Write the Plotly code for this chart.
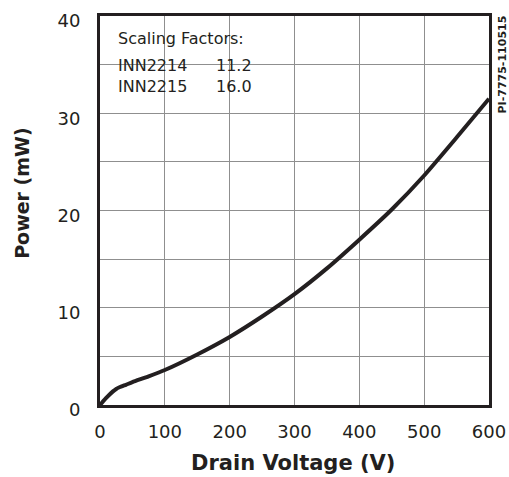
import plotly.graph_objects as go

# Data
drain_voltage = [0, 10, 20, 25, 30, 40, 50, 75, 100, 150, 200, 250, 300, 350, 400, 450, 500, 550, 600]
power_mw = [0, 0.75, 1.4, 1.65, 1.82, 2.08, 2.35, 2.95, 3.6, 5.2, 7.0, 9.1, 11.4, 14.05, 17.0, 20.1, 23.6, 27.5, 31.5]

x_ticks = [0, 100, 200, 300, 400, 500, 600]
y_ticks = [0, 10, 20, 30, 40]

legend_title = "Scaling Factors:"
devices = ["INN2214", "INN2215"]
factors = ["11.2", "16.0"]

INK = "#231f20"
GRID = "#8f8f8f"
FONT = "DejaVu Sans"

fig = go.Figure()
fig.add_trace(go.Scatter(
    x=drain_voltage, y=power_mw, mode="lines",
    line=dict(color=INK, width=4, shape="spline", smoothing=0.6),
    showlegend=False, hoverinfo="skip",
))

fig.update_layout(
    width=509, height=477, autosize=False,
    margin=dict(l=100, r=20, t=16, b=72, autoexpand=False),
    paper_bgcolor="white", plot_bgcolor="white",
    font=dict(family=FONT, color=INK),
    showlegend=False,
)

fig.update_xaxes(
    range=[0, 600], tickvals=x_ticks, ticktext=[str(v) for v in x_ticks],
    showgrid=True, gridcolor=GRID, gridwidth=1,
    showline=True, linecolor=INK, linewidth=3, mirror=True,
    ticks="", ticklabelstandoff=8, zeroline=False, automargin=False,
    tickfont=dict(size=18, family=FONT, color=INK),
)
fig.update_yaxes(
    range=[0, 40], tickvals=y_ticks, ticktext=[str(v) for v in y_ticks],
    showgrid=True, gridcolor=GRID, gridwidth=1,
    minor=dict(dtick=5, showgrid=True, gridcolor=GRID, gridwidth=1),
    showline=True, linecolor=INK, linewidth=3, mirror=True,
    ticks="", ticklabelstandoff=13, ticklabelshift=5, zeroline=False, automargin=False,
    tickfont=dict(size=18, family=FONT, color=INK),
)

# White legend box covering the grid
fig.add_shape(type="rect", xref="paper", yref="paper",
              x0=0.012, x1=0.393, y0=0.785, y1=0.99,
              fillcolor="white", line=dict(width=0), layer="between")

fig.add_annotation(text=legend_title, xref="paper", yref="paper",
                   x=0.04, y=0.942, xanchor="left", yanchor="middle",
                   showarrow=False, font=dict(size=16, family=FONT, color=INK))
for i, (d, f) in enumerate(zip(devices, factors)):
    yy = 0.874 - i * 0.0565
    fig.add_annotation(text=d, xref="paper", yref="paper",
                       x=0.04, y=yy, xanchor="left", yanchor="middle",
                       showarrow=False, font=dict(size=16, family=FONT, color=INK))
    fig.add_annotation(text=f, xref="paper", yref="paper",
                       x=0.292, y=yy, xanchor="left", yanchor="middle",
                       showarrow=False, font=dict(size=16, family=FONT, color=INK))

# Axis titles
fig.add_annotation(text="<b>Drain Voltage (V)</b>", xref="paper", yref="paper",
                   x=0.495, y=-0.148, xanchor="center", yanchor="middle",
                   showarrow=False, font=dict(size=21, family=FONT, color=INK))
fig.add_annotation(text="<b>Power (mW)</b>", xref="paper", yref="paper",
                   x=-0.201, y=0.545, xanchor="center", yanchor="middle",
                   textangle=-90, showarrow=False,
                   font=dict(size=19, family=FONT, color=INK))

# Document id
fig.add_annotation(text="<b>PI-7775-110515</b>", xref="paper", yref="paper",
                   x=1.034, y=0.876, xanchor="center", yanchor="middle",
                   textangle=-90, showarrow=False,
                   font=dict(size=11, family=FONT, color=INK))

fig.write_html(
    "out.html",
    config={"displayModeBar": False},
    post_script="document.body.style.margin='0px';document.body.style.overflow='hidden';",
)
